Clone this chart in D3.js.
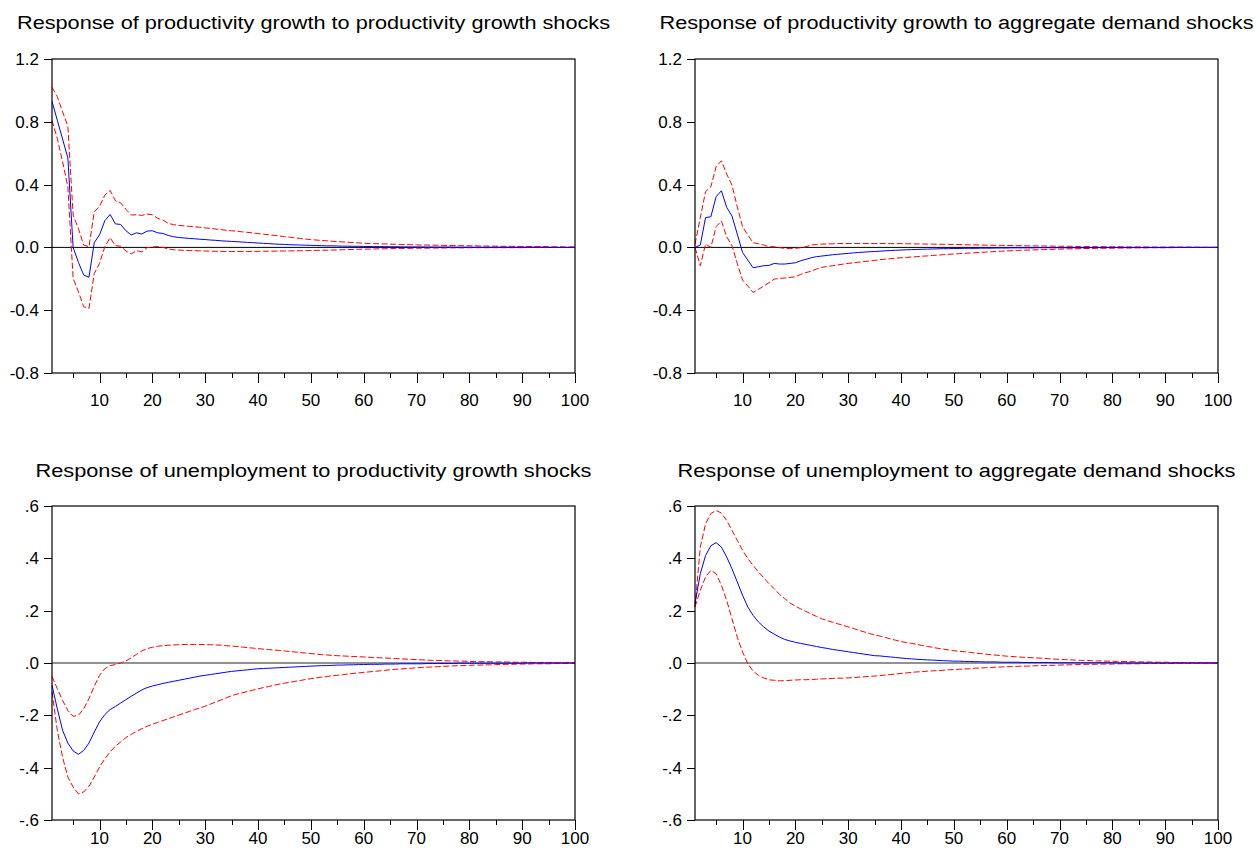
<!DOCTYPE html>
<html><head><meta charset="utf-8">
<script src="https://cdn.jsdelivr.net/npm/d3@7"></script>
<style>body{margin:0;background:#fff} svg{display:block}</style>
</head><body>
<svg id="c" width="1257" height="853"></svg>
<script>
const periods = d3.range(1, 101);

// Response of productivity growth to productivity growth shocks
const pgPgMid = [0.93,0.81,0.69,0.57,0.00,-0.095,-0.176,-0.19,0.03,0.08,
0.17,0.21,0.15,0.146,0.106,0.079,0.093,0.085,0.104,0.106,
0.093,0.089,0.076,0.068,0.063,0.060,0.057,0.055,0.052,0.050,
0.047,0.045,0.042,0.040,0.038,0.036,0.034,0.032,0.030,0.028,
0.026,0.024,0.022,0.020,0.019,0.017,0.016,0.015,0.014,0.013,
0.012,0.011,0.010,0.010,0.009,0.008,0.008,0.007,0.007,0.006,
0.006,0.005,0.005,0.005,0.004,0.004,0.004,0.003,0.003,0.003,
0.003,0.002,0.002,0.002,0.002,0.002,0.002,0.001,0.001,0.001,
0.001,0.001,0.001,0.001,0.001,0.001,0.001,0.001,0.001,0.001,
0.001,0.001,0.001,0.001,0.001,0,0,0,0,0];
const pgPgUp = [1.02,0.96,0.864,0.773,0.206,0.12,0.015,0.004,0.227,0.26,
0.333,0.363,0.297,0.284,0.242,0.206,0.208,0.204,0.212,0.208,
0.185,0.174,0.153,0.145,0.140,0.137,0.134,0.131,0.128,0.124,
0.121,0.117,0.113,0.109,0.106,0.103,0.099,0.096,0.092,0.088,
0.084,0.081,0.077,0.073,0.069,0.065,0.061,0.057,0.053,0.050,
0.047,0.044,0.042,0.039,0.037,0.035,0.033,0.031,0.029,0.027,
0.025,0.024,0.023,0.022,0.021,0.020,0.019,0.018,0.017,0.016,
0.015,0.015,0.014,0.014,0.013,0.012,0.012,0.011,0.011,0.010,
0.010,0.009,0.009,0.008,0.008,0.007,0.007,0.007,0.006,0.006,
0.006,0.005,0.005,0.005,0.004,0.004,0.004,0.003,0.003,0.003];
const pgPgLo = [0.81,0.694,0.546,0.386,-0.197,-0.282,-0.378,-0.389,-0.166,-0.102,
0.004,0.062,0.011,0.008,-0.023,-0.042,-0.021,-0.028,-0.002,0.002,
0.006,0.0,-0.010,-0.015,-0.017,-0.019,-0.020,-0.021,-0.022,-0.023,
-0.024,-0.025,-0.025,-0.026,-0.026,-0.026,-0.026,-0.026,-0.025,-0.025,
-0.025,-0.024,-0.024,-0.023,-0.023,-0.022,-0.022,-0.021,-0.021,-0.020,
-0.019,-0.018,-0.018,-0.017,-0.016,-0.015,-0.014,-0.013,-0.012,-0.011,
-0.011,-0.010,-0.009,-0.009,-0.008,-0.007,-0.007,-0.006,-0.006,-0.005,
-0.005,-0.005,-0.004,-0.004,-0.004,-0.003,-0.003,-0.003,-0.003,-0.002,
-0.002,-0.002,-0.002,-0.002,-0.002,-0.002,-0.002,-0.002,-0.002,-0.002,
-0.001,-0.001,-0.001,-0.001,-0.001,-0.001,-0.001,-0.001,-0.001,-0.001];

// Response of productivity growth to aggregate demand shocks
const pgAdMid = [0.000,0.015,0.19,0.195,0.323,0.361,0.255,0.20,0.085,-0.032,
-0.081,-0.13,-0.123,-0.117,-0.115,-0.102,-0.106,-0.106,-0.102,-0.098,
-0.085,-0.076,-0.066,-0.059,-0.055,-0.051,-0.047,-0.044,-0.041,-0.038,
-0.035,-0.032,-0.030,-0.028,-0.026,-0.024,-0.022,-0.020,-0.018,-0.017,
-0.015,-0.014,-0.013,-0.012,-0.011,-0.010,-0.009,-0.008,-0.008,-0.007,
-0.007,-0.006,-0.006,-0.006,-0.005,-0.005,-0.005,-0.004,-0.004,-0.004,
-0.003,-0.003,-0.003,-0.003,-0.003,-0.002,-0.002,-0.002,-0.002,-0.002,
-0.002,-0.002,-0.002,-0.002,-0.002,-0.001,-0.001,-0.001,-0.001,-0.001,
-0.001,-0.001,-0.001,-0.001,-0.001,-0.001,-0.001,-0.001,-0.001,-0.001,
0,0,0,0,0,0,0,0,0,0];
const pgAdUp = [0.02,0.19,0.355,0.386,0.514,0.552,0.467,0.397,0.259,0.132,
0.079,0.030,0.023,0.015,0.004,0.004,-0.002,-0.006,-0.008,-0.006,
-0.002,0.004,0.015,0.019,0.021,0.022,0.023,0.024,0.025,0.025,
0.025,0.025,0.025,0.025,0.025,0.025,0.025,0.024,0.024,0.024,
0.023,0.023,0.022,0.022,0.021,0.021,0.020,0.020,0.019,0.019,
0.018,0.017,0.016,0.016,0.015,0.014,0.014,0.013,0.013,0.012,
0.012,0.011,0.011,0.010,0.010,0.009,0.009,0.008,0.008,0.007,
0.007,0.007,0.006,0.006,0.006,0.005,0.005,0.005,0.004,0.004,
0.004,0.004,0.003,0.003,0.003,0.003,0.003,0.002,0.002,0.002,
0.002,0.002,0.002,0.002,0.002,0.001,0.001,0.001,0.001,0.001];
const pgAdLo = [0.000,-0.117,0.021,0.000,0.132,0.168,0.068,0.011,-0.102,-0.208,
-0.246,-0.287,-0.268,-0.246,-0.225,-0.202,-0.197,-0.195,-0.191,-0.187,
-0.172,-0.161,-0.151,-0.138,-0.127,-0.122,-0.117,-0.112,-0.107,-0.102,
-0.098,-0.094,-0.090,-0.087,-0.083,-0.078,-0.075,-0.072,-0.069,-0.066,
-0.064,-0.061,-0.059,-0.056,-0.054,-0.051,-0.049,-0.046,-0.044,-0.042,
-0.040,-0.038,-0.036,-0.034,-0.032,-0.030,-0.028,-0.026,-0.024,-0.022,
-0.021,-0.019,-0.018,-0.017,-0.016,-0.015,-0.014,-0.013,-0.012,-0.011,
-0.010,-0.009,-0.009,-0.008,-0.007,-0.007,-0.006,-0.006,-0.005,-0.005,
-0.004,-0.004,-0.004,-0.003,-0.003,-0.003,-0.002,-0.002,-0.002,-0.002,
-0.002,-0.001,-0.001,-0.001,-0.001,-0.001,-0.001,-0.001,-0.001,-0.001];

// Response of unemployment to productivity growth shocks
const unPgMid = [-0.085,-0.175,-0.257,-0.306,-0.336,-0.349,-0.334,-0.306,-0.264,-0.225,
-0.197,-0.178,-0.166,-0.153,-0.140,-0.127,-0.115,-0.103,-0.094,-0.088,
-0.083,-0.078,-0.074,-0.070,-0.066,-0.062,-0.058,-0.054,-0.050,-0.047,
-0.044,-0.041,-0.038,-0.035,-0.032,-0.030,-0.028,-0.026,-0.024,-0.022,
-0.021,-0.020,-0.019,-0.018,-0.017,-0.016,-0.015,-0.014,-0.013,-0.012,
-0.011,-0.010,-0.010,-0.009,-0.008,-0.008,-0.007,-0.007,-0.006,-0.006,
-0.005,-0.005,-0.005,-0.004,-0.004,-0.004,-0.003,-0.003,-0.003,-0.003,
-0.003,-0.002,-0.002,-0.002,-0.002,-0.002,-0.002,-0.001,-0.001,-0.001,
-0.001,-0.001,-0.001,-0.001,-0.001,-0.001,-0.001,-0.001,-0.001,-0.001,
0,0,0,0,0,0,0,0,0,0];
const unPgUp = [-0.051,-0.098,-0.143,-0.181,-0.204,-0.200,-0.175,-0.136,-0.089,-0.047,
-0.022,-0.010,-0.006,0.000,0.008,0.020,0.033,0.046,0.055,0.060,
0.064,0.066,0.068,0.069,0.070,0.071,0.071,0.071,0.071,0.070,
0.070,0.069,0.068,0.066,0.065,0.063,0.061,0.059,0.057,0.055,
0.053,0.051,0.050,0.048,0.046,0.044,0.042,0.040,0.038,0.036,
0.034,0.032,0.031,0.029,0.028,0.027,0.026,0.025,0.024,0.023,
0.022,0.021,0.020,0.019,0.018,0.017,0.016,0.015,0.014,0.013,
0.012,0.011,0.010,0.010,0.009,0.008,0.008,0.007,0.007,0.006,
0.006,0.005,0.005,0.005,0.004,0.004,0.004,0.003,0.003,0.003,
0.003,0.002,0.002,0.002,0.002,0.001,0.001,0.001,0.001,0.001];
const unPgLo = [-0.110,-0.257,-0.360,-0.436,-0.474,-0.500,-0.493,-0.471,-0.436,-0.397,
-0.366,-0.340,-0.318,-0.302,-0.285,-0.273,-0.261,-0.251,-0.242,-0.234,
-0.227,-0.220,-0.213,-0.206,-0.199,-0.192,-0.185,-0.178,-0.172,-0.165,
-0.157,-0.149,-0.141,-0.133,-0.125,-0.119,-0.114,-0.109,-0.104,-0.099,
-0.094,-0.090,-0.085,-0.081,-0.077,-0.074,-0.070,-0.067,-0.063,-0.060,
-0.057,-0.054,-0.052,-0.049,-0.047,-0.045,-0.042,-0.040,-0.038,-0.036,
-0.034,-0.032,-0.030,-0.028,-0.026,-0.024,-0.023,-0.021,-0.020,-0.018,
-0.017,-0.016,-0.015,-0.014,-0.013,-0.012,-0.011,-0.010,-0.010,-0.009,
-0.008,-0.008,-0.007,-0.007,-0.006,-0.006,-0.005,-0.005,-0.004,-0.004,
-0.004,-0.003,-0.003,-0.003,-0.003,-0.002,-0.002,-0.002,-0.002,-0.002];

// Response of unemployment to aggregate demand shocks
const unAdMid = [0.227,0.341,0.411,0.448,0.460,0.443,0.405,0.360,0.310,0.259,
0.214,0.182,0.157,0.138,0.122,0.110,0.099,0.090,0.084,0.079,
0.075,0.071,0.067,0.063,0.059,0.056,0.052,0.049,0.046,0.043,
0.040,0.037,0.034,0.031,0.028,0.027,0.025,0.023,0.021,0.019,
0.017,0.016,0.014,0.013,0.012,0.011,0.010,0.009,0.008,0.007,
0.007,0.006,0.006,0.005,0.005,0.004,0.004,0.004,0.003,0.003,
0.003,0.003,0.002,0.002,0.002,0.002,0.002,0.002,0.001,0.001,
0.001,0.001,0.001,0.001,0.001,0.001,0.001,0.001,0.001,0.001,
0,0,0,0,0,0,0,0,0,0,
0,0,0,0,0,0,0,0,0,0];
const unAdUp = [0.214,0.443,0.532,0.571,0.583,0.573,0.545,0.507,0.469,0.431,
0.399,0.373,0.348,0.326,0.303,0.284,0.262,0.246,0.229,0.217,
0.207,0.197,0.187,0.178,0.169,0.162,0.156,0.150,0.144,0.138,
0.132,0.125,0.119,0.113,0.107,0.103,0.098,0.092,0.087,0.082,
0.078,0.075,0.071,0.067,0.063,0.060,0.056,0.053,0.050,0.047,
0.045,0.043,0.041,0.038,0.036,0.034,0.032,0.030,0.028,0.026,
0.025,0.023,0.022,0.021,0.020,0.019,0.018,0.016,0.015,0.014,
0.013,0.012,0.011,0.010,0.010,0.009,0.008,0.008,0.007,0.007,
0.006,0.006,0.005,0.005,0.004,0.004,0.004,0.003,0.003,0.003,
0.002,0.002,0.002,0.002,0.002,0.001,0.001,0.001,0.001,0.001];
const unAdLo = [0.214,0.278,0.329,0.354,0.341,0.297,0.239,0.169,0.099,0.042,
-0.003,-0.031,-0.047,-0.057,-0.064,-0.066,-0.068,-0.068,-0.066,-0.065,
-0.064,-0.064,-0.063,-0.062,-0.061,-0.060,-0.059,-0.058,-0.058,-0.057,
-0.056,-0.054,-0.053,-0.051,-0.050,-0.048,-0.046,-0.044,-0.042,-0.040,
-0.038,-0.036,-0.034,-0.033,-0.031,-0.030,-0.029,-0.028,-0.026,-0.025,
-0.024,-0.023,-0.022,-0.020,-0.019,-0.018,-0.017,-0.016,-0.015,-0.014,
-0.014,-0.013,-0.012,-0.012,-0.011,-0.010,-0.010,-0.009,-0.009,-0.008,
-0.007,-0.007,-0.006,-0.006,-0.005,-0.005,-0.005,-0.004,-0.004,-0.004,
-0.003,-0.003,-0.003,-0.003,-0.003,-0.002,-0.002,-0.002,-0.002,-0.002,
-0.002,-0.001,-0.001,-0.001,-0.001,-0.001,-0.001,-0.001,-0.001,-0.001];

const titles = [
  "Response of productivity growth to productivity growth shocks",
  "Response of productivity growth to aggregate demand shocks",
  "Response of unemployment to productivity growth shocks",
  "Response of unemployment to aggregate demand shocks"
];
const topTicks = [-0.8, -0.4, 0, 0.4, 0.8, 1.2];
const topTickLabels = ["-0.8", "-0.4", "0.0", "0.4", "0.8", "1.2"];
const botTicks = [-0.6, -0.4, -0.2, 0, 0.2, 0.4, 0.6];
const botTickLabels = ["-.6", "-.4", "-.2", ".0", ".2", ".4", ".6"];
const xTicks = [5,10,15,20,25,30,35,40,45,50,55,60,65,70,75,80,85,90,95,100];
const xTickLabels = ["10","20","30","40","50","60","70","80","90","100"];
const xLabelTicks = [10,20,30,40,50,60,70,80,90,100];

const panels = [
  {title: titles[0], mid: pgPgMid, up: pgPgUp, lo: pgPgLo, x0: 52, x1: 575, y0: 59, y1: 373,
   dom: [-0.8, 1.2], ticks: topTicks, labels: topTickLabels, titleY: 29.3, xLabY: 405.5, titleW: 593, zero: "#000", zeroW: 1},
  {title: titles[1], mid: pgAdMid, up: pgAdUp, lo: pgAdLo, x0: 695, x1: 1218, y0: 59, y1: 373,
   dom: [-0.8, 1.2], ticks: topTicks, labels: topTickLabels, titleY: 29.3, xLabY: 405.5, titleW: 594, zero: "#000", zeroW: 1},
  {title: titles[2], mid: unPgMid, up: unPgUp, lo: unPgLo, x0: 52, x1: 575, y0: 506, y1: 820,
   dom: [-0.6, 0.6], ticks: botTicks, labels: botTickLabels, titleY: 477.3, xLabY: 843.5, titleW: 556, zero: "#6e6e6e", zeroW: 1.3},
  {title: titles[3], mid: unAdMid, up: unAdUp, lo: unAdLo, x0: 695, x1: 1218, y0: 506, y1: 820,
   dom: [-0.6, 0.6], ticks: botTicks, labels: botTickLabels, titleY: 477.3, xLabY: 843.5, titleW: 558, zero: "#6e6e6e", zeroW: 1.3}
];

const svg = d3.select("#c");
const FONT = "'Liberation Sans', Arial, Helvetica, sans-serif";

panels.forEach(p => {
  const x = d3.scaleLinear().domain([1, 100]).range([p.x0, p.x1]);
  const y = d3.scaleLinear().domain(p.dom).range([p.y1, p.y0]);
  const g = svg.append("g");

  // title
  g.append("text")
    .attr("x", (p.x0 + p.x1) / 2).attr("y", p.titleY)
    .attr("text-anchor", "middle")
    .attr("font-family", FONT).attr("font-size", 18)
    .attr("textLength", p.titleW).attr("lengthAdjust", "spacingAndGlyphs")
    .attr("fill", "#000")
    .text(p.title);

  // y axis
  const ya = g.append("g").attr("transform", `translate(${p.x0},0)`)
    .call(d3.axisLeft(y).tickValues(p.ticks).tickFormat((d, i) => p.labels[i]).tickSize(8).tickPadding(5));
  ya.select(".domain").remove();
  ya.selectAll("line").attr("stroke", "#000").attr("shape-rendering", "crispEdges");
  ya.selectAll("text").attr("font-family", FONT).attr("font-size", 17).attr("fill", "#000");

  // x axis ticks
  const xa = g.append("g").attr("transform", `translate(0,${p.y1})`)
    .call(d3.axisBottom(x).tickValues(xTicks).tickFormat("").tickSize(5));
  xa.select(".domain").remove();
  xa.selectAll(".tick line")
    .attr("y2", d => d % 10 === 0 ? 10 : 5)
    .attr("stroke", "#000").attr("shape-rendering", "crispEdges");
  xa.selectAll(".tick text").remove();

  // x labels
  g.selectAll(".xl").data(xLabelTicks).enter().append("text")
    .attr("x", d => x(d)).attr("y", p.xLabY)
    .attr("text-anchor", "middle")
    .attr("font-family", FONT).attr("font-size", 17).attr("fill", "#000")
    .text((d, i) => xTickLabels[i]);

  // zero line
  g.append("line")
    .attr("x1", p.x0).attr("x2", p.x1)
    .attr("y1", y(0)).attr("y2", y(0))
    .attr("stroke", p.zero).attr("stroke-width", p.zeroW);

  const line = d3.line().x((d, i) => x(periods[i])).y(d => y(d));

  g.append("path").attr("d", line(p.up)).attr("fill", "none")
    .attr("stroke", "#ff0000").attr("stroke-width", 1).attr("stroke-dasharray", "6,2.5");
  g.append("path").attr("d", line(p.lo)).attr("fill", "none")
    .attr("stroke", "#ff0000").attr("stroke-width", 1).attr("stroke-dasharray", "6,2.5");
  g.append("path").attr("d", line(p.mid)).attr("fill", "none")
    .attr("stroke", "#0000ff").attr("stroke-width", 1);

  // frame
  g.append("rect")
    .attr("x", p.x0).attr("y", p.y0)
    .attr("width", p.x1 - p.x0).attr("height", p.y1 - p.y0)
    .attr("fill", "none").attr("stroke", "#000").attr("stroke-width", 1.2);
});
</script>
</body></html>
